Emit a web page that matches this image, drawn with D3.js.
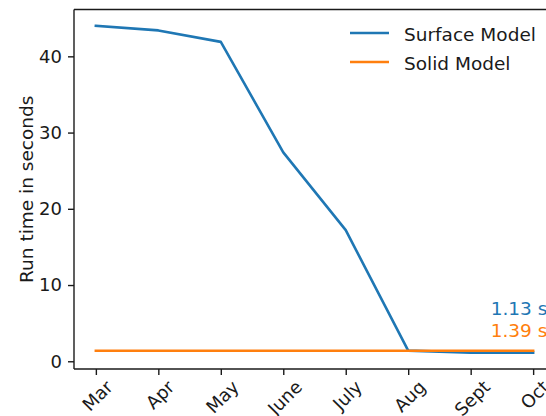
<!DOCTYPE html>
<html><head><meta charset="utf-8">
<script src="https://cdn.jsdelivr.net/npm/d3@7"></script>
<style>
body{margin:0;background:#fff;}
svg{display:block;font-family:"DejaVu Sans",sans-serif;}
</style></head>
<body>
<svg id="chart" width="546" height="416"></svg>
<script>
const months = ["Mar","Apr","May","June","July","Aug","Sept","Oct"];
const surfaceModel = [44.0, 43.4, 41.9, 27.4, 17.2, 1.4, 1.13, 1.13];
const solidModel = [1.39, 1.39, 1.39, 1.39, 1.39, 1.39, 1.39, 1.39];
const yTicks = [0, 10, 20, 30, 40];
const seriesNames = ["Surface Model", "Solid Model"];
const annotations = ["1.13 s", "1.39 s"];

(function() {
const colors = ["#1f77b4", "#ff7f0e"];
const textColor = "#1a1a1a";
const fs = 18.5, tfs = 18;

const svg = d3.select("#chart");
const mLeft = 74, mRight = 555, mTop = 9.5, mBottom = 369;

const allVals = surfaceModel.concat(solidModel);
const yMin = d3.min(allVals), yMax = d3.max(allVals);
const yPad = (yMax - yMin) * 0.05;
const n = months.length;
const x = d3.scaleLinear().domain([-0.35, n - 1 + 0.35]).range([mLeft, mRight]);
const y = d3.scaleLinear().domain([yMin - yPad, yMax + yPad]).range([mBottom, mTop]);

// lines
const line = d3.line().x((d, i) => x(i)).y(d => y(d));
[surfaceModel, solidModel].forEach((s, i) => {
  svg.append("path").datum(s).attr("d", line)
    .attr("fill", "none").attr("stroke", colors[i]).attr("stroke-width", 2.6)
    .attr("stroke-linejoin", "round").attr("stroke-linecap", "square");
});

// spines
const spine = svg.append("g").attr("stroke", textColor).attr("stroke-width", 1.4).attr("fill", "none");
spine.append("line").attr("x1", mLeft).attr("x2", mLeft).attr("y1", mTop).attr("y2", mBottom);
spine.append("line").attr("x1", mLeft).attr("x2", mRight).attr("y1", mBottom).attr("y2", mBottom);
spine.append("line").attr("x1", mLeft).attr("x2", mRight).attr("y1", mTop).attr("y2", mTop);
spine.append("line").attr("x1", mRight).attr("x2", mRight).attr("y1", mTop).attr("y2", mBottom);

// y axis
const yAxis = d3.axisLeft(y).tickValues(yTicks).tickSize(6).tickPadding(6).tickFormat(d3.format("d"));
const gy = svg.append("g").attr("transform", `translate(${mLeft},0)`).call(yAxis);
gy.select(".domain").remove();
gy.selectAll(".tick line").attr("stroke", textColor).attr("stroke-width", 1.4);
gy.selectAll(".tick text").attr("fill", textColor).style("font-size", tfs + "px").style("font-family", "DejaVu Sans");

// x axis
const xAxis = d3.axisBottom(x).tickValues(d3.range(n)).tickSize(6).tickFormat(i => months[i]);
const gx = svg.append("g").attr("transform", `translate(0,${mBottom})`).call(xAxis);
gx.select(".domain").remove();
gx.selectAll(".tick line").attr("stroke", textColor).attr("stroke-width", 1.4);
gx.selectAll(".tick text").each(function() {
  const t = d3.select(this);
  t.attr("fill", textColor).style("font-size", tfs + "px").style("font-family", "DejaVu Sans")
   .attr("text-anchor", "middle").attr("dy", null).attr("dominant-baseline", "central");
  const w = this.getComputedTextLength();
  const h = tfs * 1.05;
  const bh = (w + h) * Math.SQRT1_2;
  const cy = 8 + bh / 2;
  t.attr("y", null).attr("transform", `translate(1,${cy}) rotate(-45)`);
});

// y label
svg.append("text").attr("transform", `translate(${26.5},${(mTop + mBottom) / 2}) rotate(-90)`)
  .attr("text-anchor", "middle").attr("dominant-baseline", "central")
  .attr("fill", textColor).style("font-size", fs + "px").text("Run time in seconds");

// legend
const legend = svg.append("g");
seriesNames.forEach((name, i) => {
  const ly = 33 + i * 29;
  legend.append("line").attr("x1", 350).attr("x2", 389).attr("y1", ly).attr("y2", ly)
    .attr("stroke", colors[i]).attr("stroke-width", 2.6);
  legend.append("text").attr("x", 404).attr("y", ly + 1).attr("dominant-baseline", "central")
    .attr("fill", textColor).style("font-size", fs + "px").text(name);
});

// annotations
annotations.forEach((a, i) => {
  svg.append("text").attr("x", x(n - 1) - 42.5).attr("y", 315 + i * 21.7)
    .attr("fill", colors[i]).style("font-size", fs + "px").text(a);
});
})();
</script>
</body></html>
